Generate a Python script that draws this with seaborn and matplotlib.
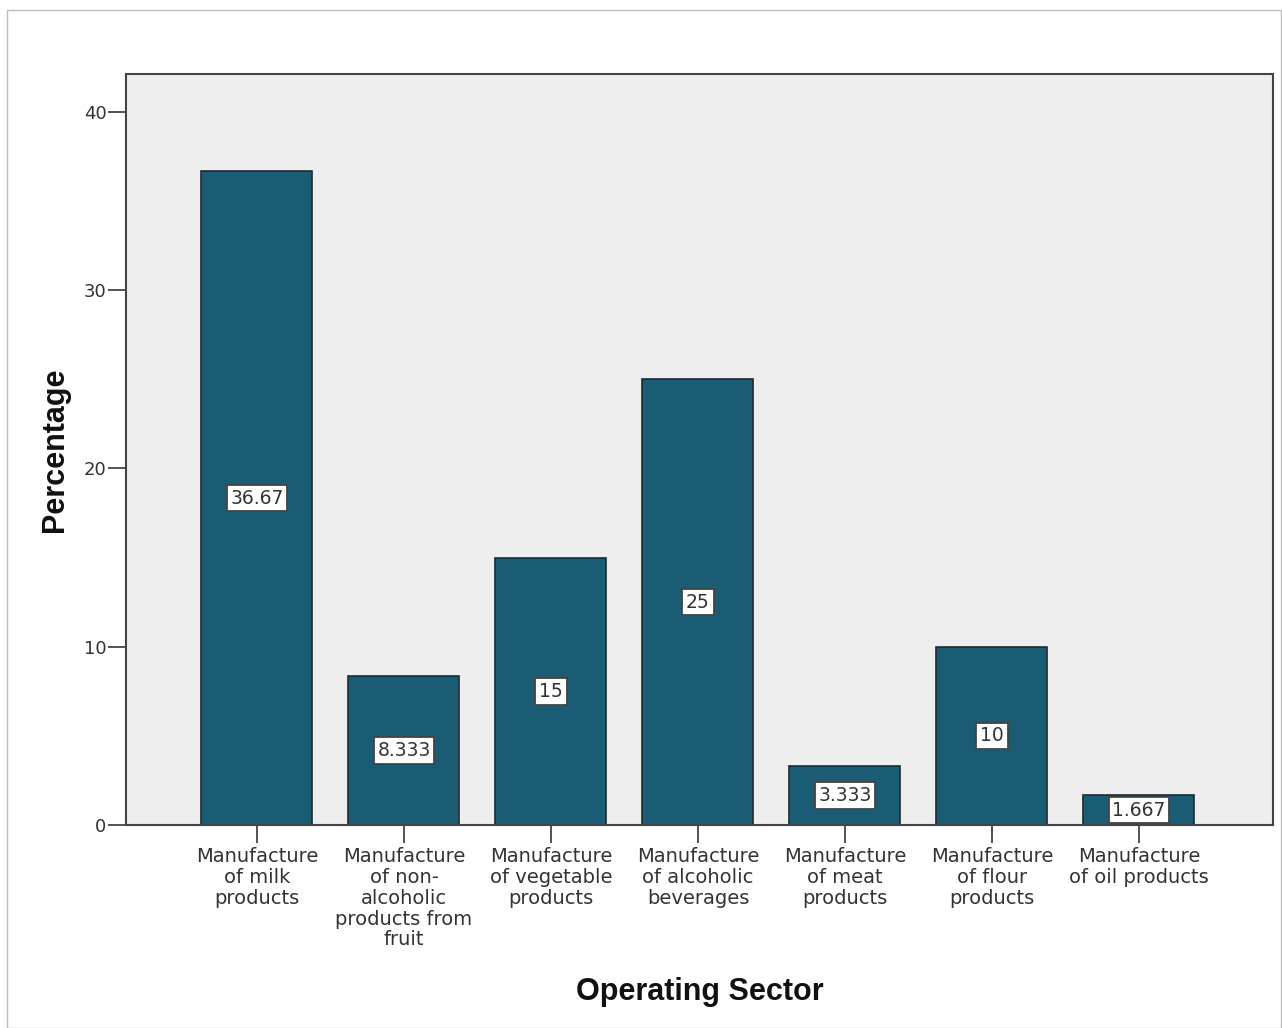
import matplotlib
matplotlib.use("Agg")
import matplotlib.pyplot as plt
import seaborn as sns
import pandas as pd
from matplotlib.patches import Rectangle

sectors = [
    "Manufacture\nof milk\nproducts",
    "Manufacture\nof non-\nalcoholic\nproducts from\nfruit",
    "Manufacture\nof vegetable\nproducts",
    "Manufacture\nof alcoholic\nbeverages",
    "Manufacture\nof meat\nproducts",
    "Manufacture\nof flour\nproducts",
    "Manufacture\nof oil products",
]
percentages = [36.67, 8.333, 15, 25, 3.333, 10, 1.667]
value_labels = ["36.67", "8.333", "15", "25", "3.333", "10", "1.667"]
y_ticks = [0, 10, 20, 30, 40]

df = pd.DataFrame({"sector": sectors, "pct": percentages})

sns.set_theme(style="white")
plt.rcParams["font.family"] = ["DejaVu Sans"]

fig = plt.figure(figsize=(12.82, 10.28), dpi=100)
ax = fig.add_axes([126 / 1282, 1 - 825 / 1028, (1273 - 126) / 1282, (825 - 74) / 1028])
ax.set_facecolor("#eeeeee")

sns.barplot(data=df, x="sector", y="pct", ax=ax, color="#1a5c73",
            saturation=1, width=0.755, edgecolor="#1e2a30", linewidth=1.2)

for i, (v, lab) in enumerate(zip(percentages, value_labels)):
    ax.text(i, v / 2, lab, ha="center", va="center", fontsize=13.5, color="#333333",
            bbox=dict(boxstyle="square,pad=0.2", facecolor="white",
                      edgecolor="#444444", linewidth=1.3), zorder=5)

ax.set_xlim(-0.891, 6.912)
ax.set_ylim(0, 42.13)
ax.set_yticks(y_ticks)
ax.set_yticklabels([str(t) for t in y_ticks], fontsize=13, color="#333333")
ax.set_xticks(range(len(sectors)))
ax.set_xticklabels(sectors, fontsize=14, color="#333333", linespacing=1.12)
ax.tick_params(axis="both", direction="out", length=13, width=1.3, color="#444444",
               bottom=True, left=True)
ax.tick_params(axis="y", pad=1)
ax.tick_params(axis="x", pad=3)

for side in ["left", "right", "top", "bottom"]:
    ax.spines[side].set_visible(True)
    ax.spines[side].set_color("#444444")
    ax.spines[side].set_linewidth(1.5)

ax.set_xlabel("Operating Sector", fontsize=22, fontweight="bold", labelpad=20,
              color="#111111", family="Liberation Sans")
ax.set_ylabel("Percentage", fontsize=22, fontweight="bold", labelpad=10,
              color="#111111", family="Liberation Sans")

fig.patches.append(Rectangle((7 / 1282, 0), 1 - 7 / 1282 - 0.0005, 1 - 10 / 1028,
                             transform=fig.transFigure, fill=False,
                             edgecolor="#bbbbbb", linewidth=1))

fig.savefig("out.png", dpi=100, facecolor="white")
